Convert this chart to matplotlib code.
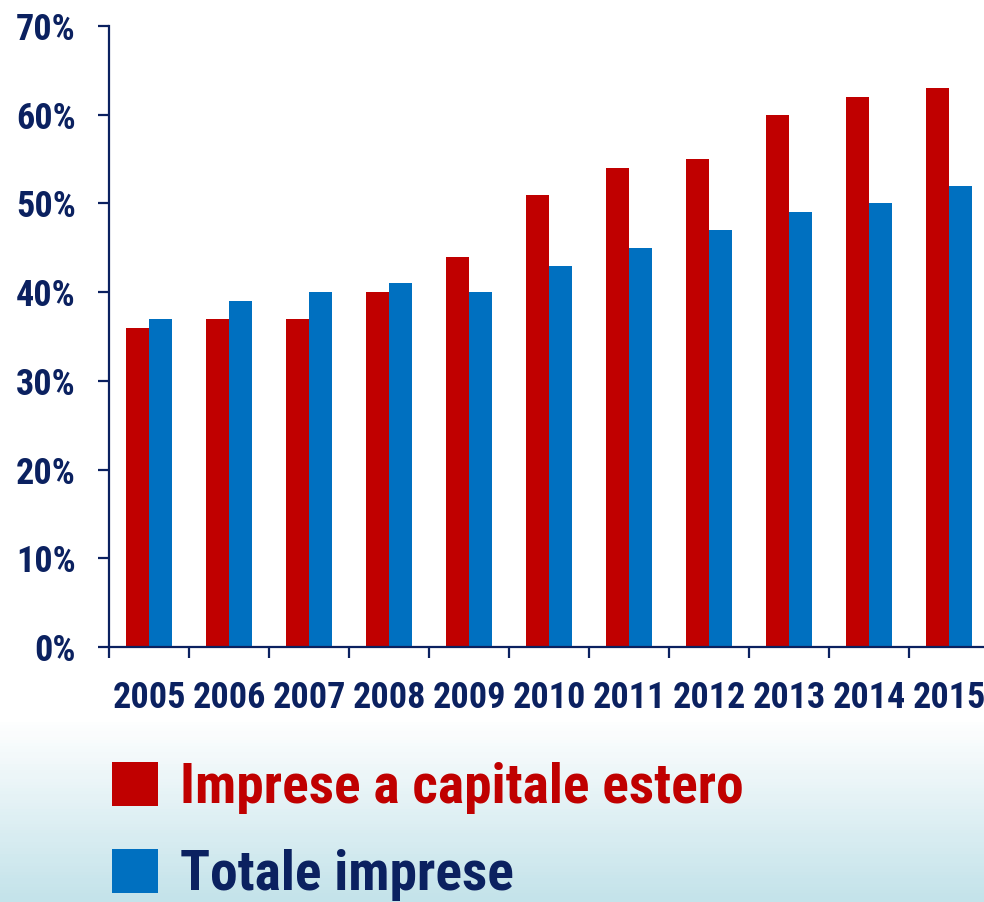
import numpy as np
import matplotlib
matplotlib.use('Agg')
import matplotlib.pyplot as plt
from matplotlib.colors import LinearSegmentedColormap

# data
years = ['2005', '2006', '2007', '2008', '2009', '2010', '2011', '2012', '2013', '2014', '2015']
estero = [36, 37, 37, 40, 44, 51, 54, 55, 60, 62, 63]
totale = [37, 39, 40, 41, 40, 43, 45, 47, 49, 50, 52]
yticks = [0, 10, 20, 30, 40, 50, 60, 70]
labels = ['Imprese a capitale estero', 'Totale imprese']

navy = '#0b2160'
red = '#c00000'
blue = '#0070c0'

plt.rcParams['font.family'] = ['Roboto Condensed', 'Liberation Sans']
plt.rcParams['font.weight'] = 'bold'

fig = plt.figure(figsize=(9.84, 9.02), dpi=100)

# background: white fading to light blue at the bottom
bg = fig.add_axes([0, 0, 1, 1], zorder=-1)
grad = np.linspace(0, 1, 300).reshape(-1, 1)
cmap = LinearSegmentedColormap.from_list('bg', [(0, '#c4e3ea'), (0.2, '#ffffff'), (1, '#ffffff')])
bg.imshow(grad, cmap=cmap, aspect='auto', origin='lower', extent=[0, 1, 0, 1])
bg.set_axis_off()

ax = fig.add_axes([109/984, 1-647/902, 880/984, 621/902])
ax.patch.set_alpha(0)
x = np.arange(len(years))
w = 0.2875
b1 = ax.bar(x - w/2, estero, w, color=red, label=labels[0])
b2 = ax.bar(x + w/2, totale, w, color=blue, label=labels[1])

ax.set_xlim(-0.5, len(years) - 0.5)
ax.set_ylim(0, 70)
ax.set_yticks(yticks)
ax.set_yticklabels([f'{v}%' for v in yticks])
ax.set_xticks(np.arange(len(years) + 1) - 0.5)
ax.set_xticklabels([])
ax.set_xticks(x, minor=True)
ax.set_xticklabels(years, minor=True)

for s in ['top', 'right']:
    ax.spines[s].set_visible(False)
for s in ['left', 'bottom']:
    ax.spines[s].set_color(navy)
    ax.spines[s].set_linewidth(1.6)

ax.tick_params(axis='y', which='major', length=8, width=1.6, color=navy, pad=16,
               labelsize=26, labelcolor=navy)
ax.tick_params(axis='x', which='major', length=8, width=1.6, color=navy)
ax.tick_params(axis='x', which='minor', length=0, pad=24, labelsize=26, labelcolor=navy)

leg = fig.legend(handles=[b1, b2], loc='upper left', bbox_to_anchor=(62/984, 1-712/902),
                 frameon=False, fontsize=40, handlelength=0.83, handleheight=0.83,
                 handletextpad=0.40, labelspacing=0.63)
leg.get_texts()[0].set_color(red)
leg.get_texts()[1].set_color(navy)

fig.savefig('out.png', dpi=100)
